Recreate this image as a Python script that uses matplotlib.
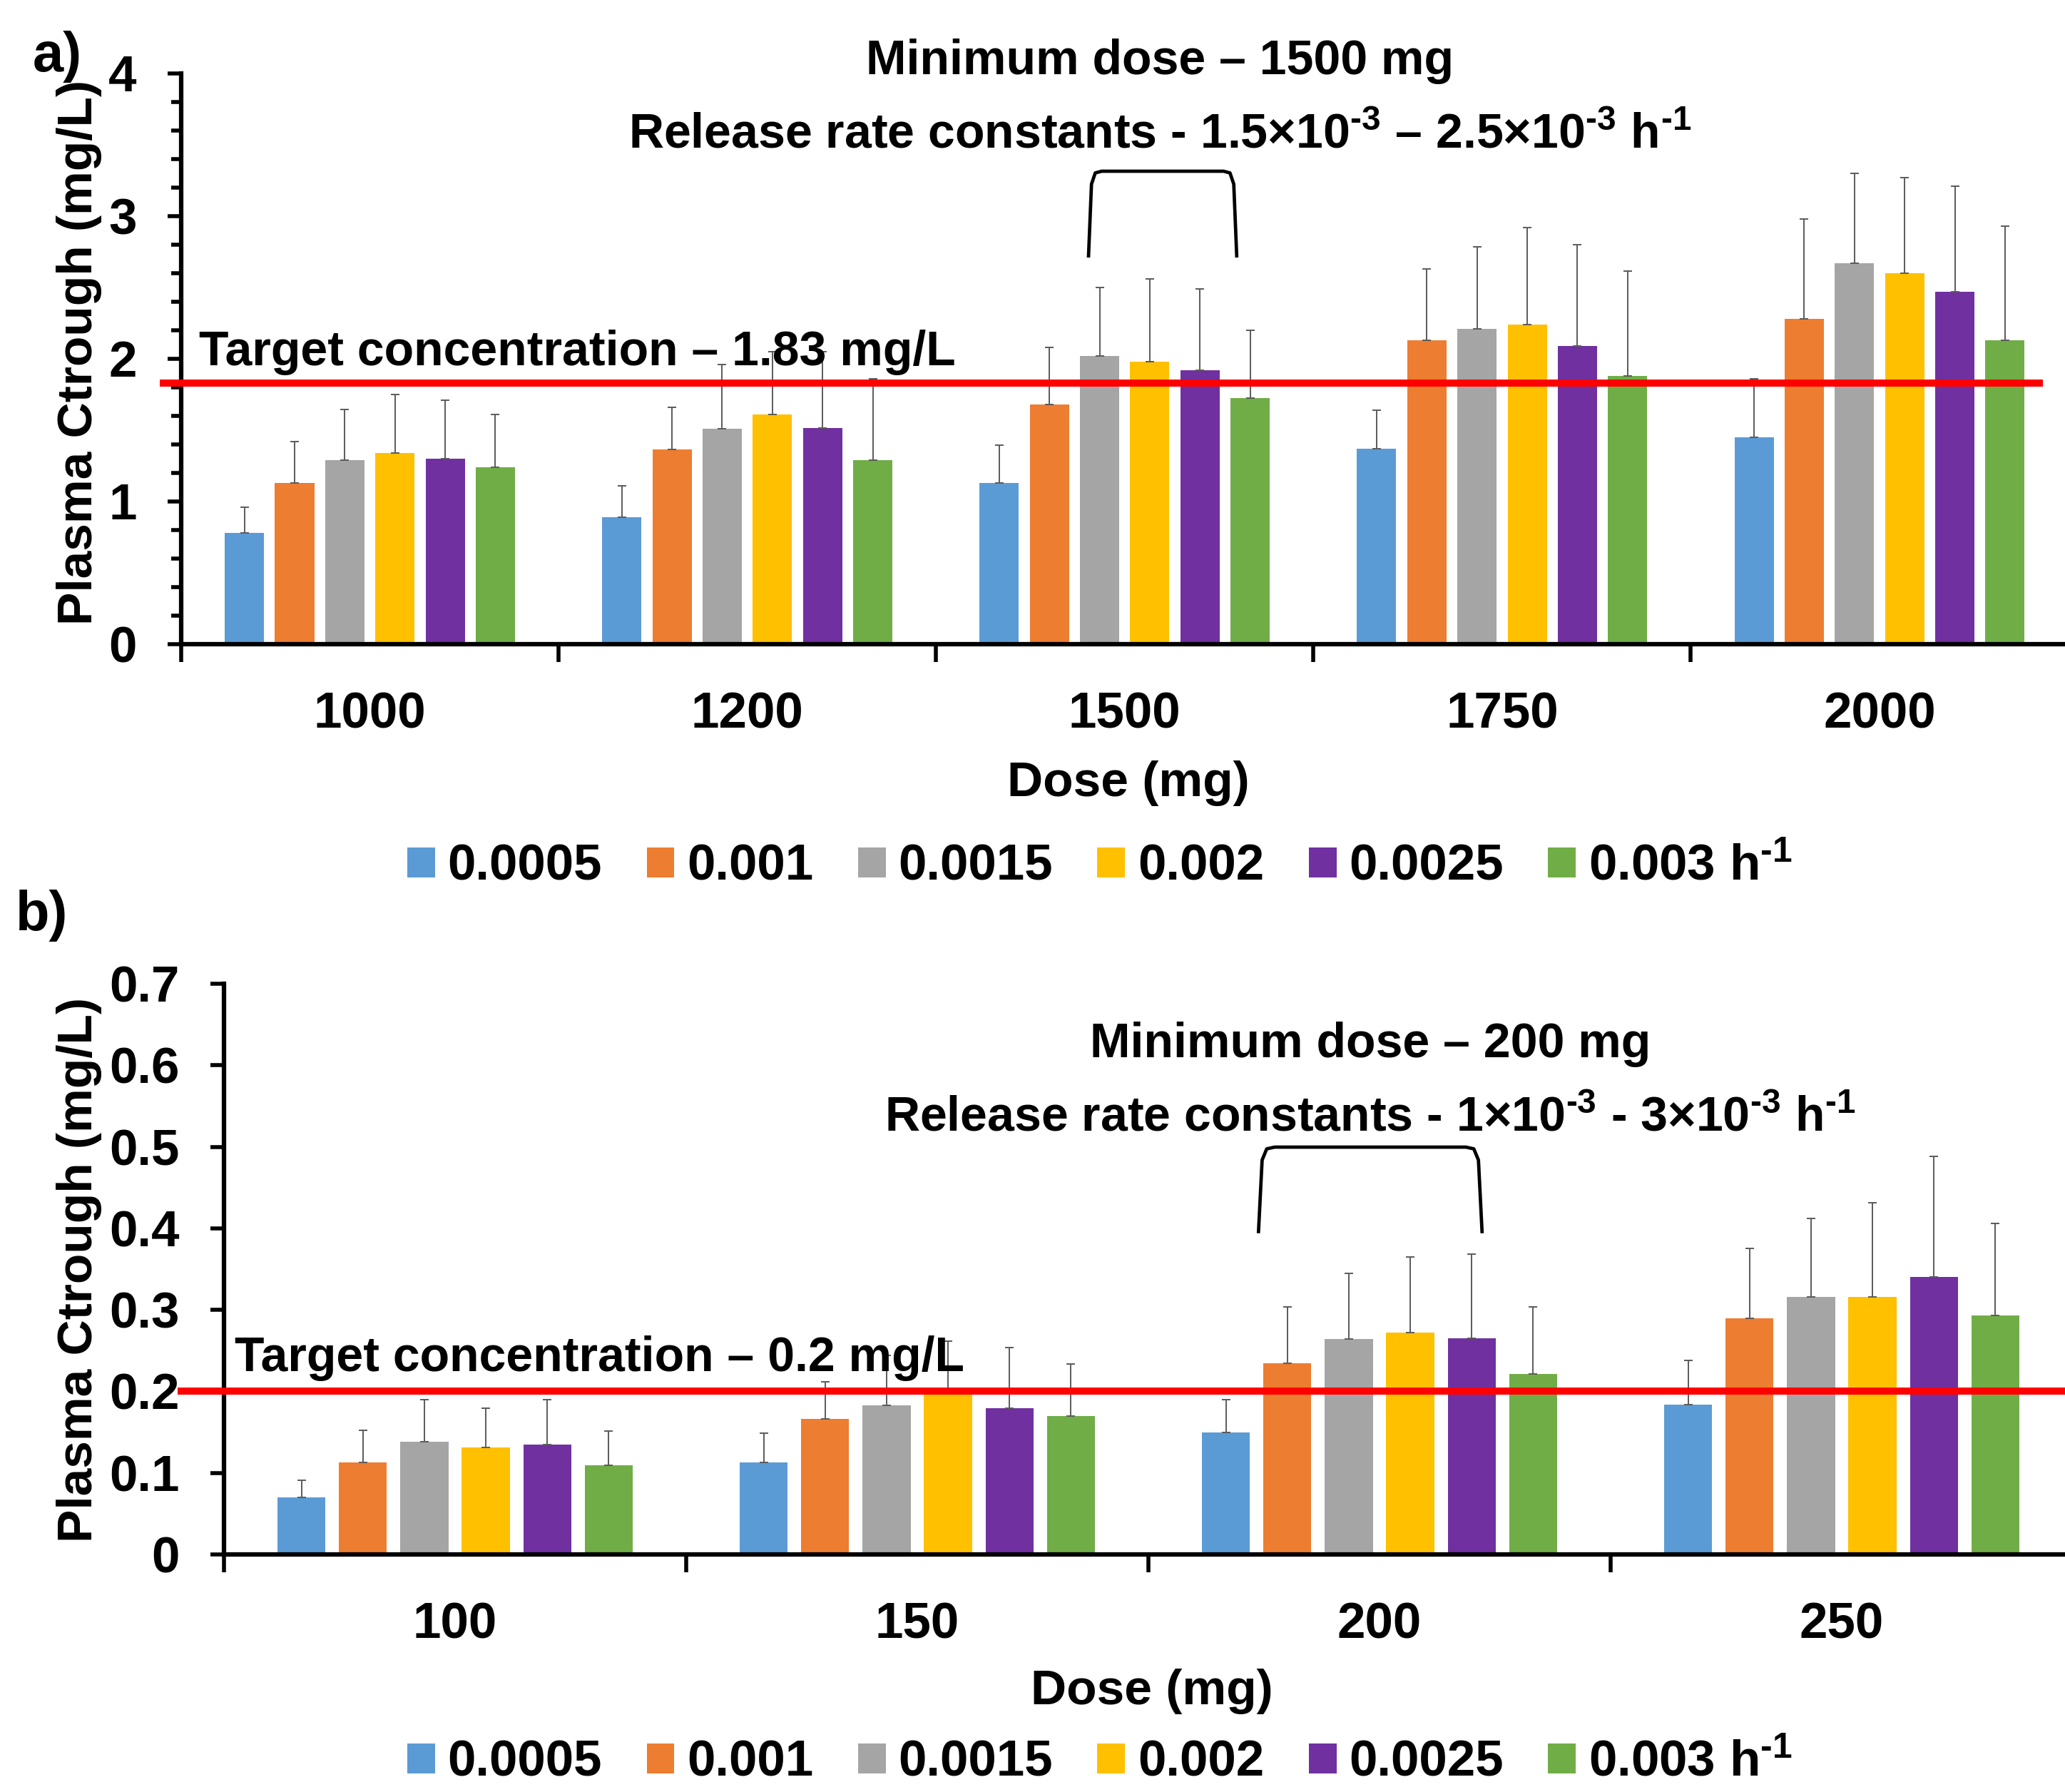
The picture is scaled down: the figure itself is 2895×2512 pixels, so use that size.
import numpy as np
import matplotlib
matplotlib.use("Agg")
import matplotlib.pyplot as plt
from matplotlib.ticker import MultipleLocator

plt.rcParams['font.family'] = ['Liberation Sans', 'DejaVu Sans']
plt.rcParams['font.weight'] = 'bold'
plt.rcParams['axes.labelweight'] = 'bold'
plt.rcParams['mathtext.fontset'] = 'custom'
plt.rcParams['mathtext.rm'] = 'Liberation Sans:bold'
plt.rcParams['mathtext.it'] = 'Liberation Sans:bold'
plt.rcParams['mathtext.bf'] = 'Liberation Sans:bold'

# release rate constants (series)
rates = ['0.0005', '0.001', '0.0015', '0.002', '0.0025', r'0.003 h$^{\text{-}1}$']
colors = ['#5B9BD5', '#ED7D31', '#A5A5A5', '#FFC000', '#7030A0', '#70AD47']

# panel a - rows are doses, columns are release rates
doses_a = ['1000', '1200', '1500', '1750', '2000']
mean_a = [
    [0.78, 1.13, 1.29, 1.34, 1.30, 1.24],
    [0.89, 1.365, 1.51, 1.61, 1.515, 1.29],
    [1.13, 1.68, 2.02, 1.98, 1.92, 1.725],
    [1.37, 2.13, 2.21, 2.24, 2.09, 1.88],
    [1.45, 2.28, 2.67, 2.60, 2.47, 2.13],
]
err_a = [
    [0.18, 0.29, 0.355, 0.41, 0.41, 0.37],
    [0.22, 0.295, 0.45, 0.44, 0.535, 0.57],
    [0.265, 0.40, 0.48, 0.58, 0.57, 0.475],
    [0.27, 0.50, 0.575, 0.68, 0.71, 0.735],
    [0.41, 0.70, 0.63, 0.67, 0.74, 0.80],
]
target_a = 1.83

# panel b
doses_b = ['100', '150', '200', '250']
mean_b = [
    [0.070, 0.1125, 0.138, 0.1315, 0.135, 0.109],
    [0.1125, 0.166, 0.183, 0.200, 0.179, 0.170],
    [0.1495, 0.2345, 0.2645, 0.2725, 0.265, 0.2215],
    [0.184, 0.290, 0.316, 0.316, 0.340, 0.2935],
]
err_b = [
    [0.021, 0.0395, 0.052, 0.0475, 0.055, 0.042],
    [0.0365, 0.046, 0.061, 0.062, 0.075, 0.064],
    [0.0405, 0.0695, 0.0805, 0.0925, 0.103, 0.0825],
    [0.054, 0.085, 0.096, 0.115, 0.148, 0.1125],
]
target_b = 0.2

FS = 49      # annotations
TFS = 51     # tick labels / legend
W, H = 2895, 2512
fig = plt.figure(figsize=(W / 100, H / 100), dpi=100)


def px_axes(left, top, right, bottom):
    return fig.add_axes([left / W, 1 - bottom / H, (right - left) / W, (bottom - top) / H])


def draw(ax, doses, means, errs):
    means = np.array(means)
    errs = np.array(errs)
    n = len(doses)
    x = np.arange(n)
    step, width = 0.133, 0.104
    handles = []
    for k in range(len(rates)):
        xs = x + (k - 2.5) * step
        b = ax.bar(xs, means[:, k], width, color=colors[k], zorder=2, label=rates[k])
        ax.errorbar(xs, means[:, k], yerr=[np.zeros(n), errs[:, k]], fmt='none',
                    ecolor='#5a5a5a', elinewidth=1.4, capsize=4, capthick=1.4, zorder=3)
        handles.append(b)
    ax.set_xlim(-0.5, n - 0.5)
    ax.set_xticks(np.arange(n + 1) - 0.5)
    ax.set_xticklabels([])
    ax.set_xticks(x, minor=True)
    ax.set_xticklabels(doses, minor=True, fontsize=TFS, fontweight='bold')
    ax.tick_params(axis='x', which='major', length=18, width=4, direction='out')
    ax.tick_params(axis='x', which='minor', length=0, pad=48)
    ax.tick_params(axis='y', which='major', length=14, width=4, pad=31, labelsize=TFS)
    ax.tick_params(axis='y', which='minor', length=10, width=4)
    for s in ['top', 'right']:
        ax.spines[s].set_visible(False)
    for s in ['left', 'bottom']:
        ax.spines[s].set_linewidth(4.5)
    ax.set_ylabel('Plasma Ctrough (mg/L)', fontsize=50, fontweight='bold', va='center')
    ax.set_xlabel('Dose (mg)', fontsize=50, fontweight='bold', va='center')
    return handles


def bracket(ax, x1, x2, y0, y1):
    dy = y1 - y0
    bx = [x1, x1 + 0.008, x1 + 0.018, x1 + 0.035, x2 - 0.035, x2 - 0.018, x2 - 0.008, x2]
    by = [y0, y0 + 0.85 * dy, y0 + 0.98 * dy, y1, y1, y0 + 0.98 * dy, y0 + 0.85 * dy, y0]
    ax.plot(bx, by, color='black', lw=3.4, zorder=5, clip_on=False, solid_capstyle='butt')


def legend(handles, ypx):
    fig.legend(handles=handles, labels=rates, loc='center', bbox_to_anchor=(0.5326, 1 - ypx / H),
               ncol=6, frameon=False, prop=dict(size=TFS, weight='bold'),
               handlelength=0.55, handleheight=0.55, handletextpad=0.25, columnspacing=0.88,
               borderpad=0.1)


sup = lambda s: r'$^{\text{-}' + s + '}$'

# ---- panel a ----
ax_a = px_axes(254, 103, 254 + 5 * 529.1, 903)
h = draw(ax_a, doses_a, mean_a, err_a)
ax_a.set_ylim(0, 4)
ax_a.yaxis.set_major_locator(MultipleLocator(1))
ax_a.yaxis.set_minor_locator(MultipleLocator(0.2))
ax_a.yaxis.set_label_coords(-0.054, 0.511)
ax_a.xaxis.set_label_coords(0.502, -0.244)
ax_a.plot([-0.547, 4.423], [target_a, target_a], color='#FF0000', lw=7.2, zorder=4, clip_on=False)
ax_a.text(-0.452, 2.045, 'Target concentration – 1.83 mg/L', fontsize=FS, fontweight='bold',
          ha='left', va='center', zorder=6)
ax_a.text(2.093, 4.085, 'Minimum dose – 1500 mg', fontsize=FS, fontweight='bold',
          ha='center', va='center', clip_on=False)
ax_a.text(2.093, 3.57, 'Release rate constants - 1.5×10' + sup('3') + ' – 2.5×10' + sup('3')
          + ' h' + sup('1'), fontsize=FS, fontweight='bold', ha='center', va='center')
bracket(ax_a, 1.904, 2.297, 2.71, 3.315)
legend(h, 1216)
fig.text(46 / W, 1 - 80 / H, 'a)', fontsize=56, fontweight='bold', ha='left', va='center')

# ---- panel b ----
ax_b = px_axes(314, 1379, 314 + 4 * 648, 2179)
h = draw(ax_b, doses_b, mean_b, err_b)
ax_b.set_ylim(0, 0.7)
ax_b.yaxis.set_major_locator(MultipleLocator(0.1))
ax_b.yaxis.set_major_formatter(plt.FuncFormatter(lambda v, p: '0' if abs(v) < 1e-9 else '%.1f' % v))
ax_b.yaxis.set_label_coords(-0.0783, 0.499)
ax_b.xaxis.set_label_coords(0.502, -0.24)
ax_b.plot([-0.593, 3.5], [target_b, target_b], color='#FF0000', lw=7.2, zorder=4, clip_on=False)
ax_b.text(-0.477, 0.241, 'Target concentration – 0.2 mg/L', fontsize=FS, fontweight='bold',
          ha='left', va='center', zorder=6)
ax_b.text(1.98, 0.626, 'Minimum dose – 200 mg', fontsize=FS, fontweight='bold',
          ha='center', va='center')
ax_b.text(1.98, 0.535, 'Release rate constants - 1×10' + sup('3') + ' - 3×10' + sup('3')
          + ' h' + sup('1'), fontsize=FS, fontweight='bold', ha='center', va='center')
bracket(ax_b, 1.738, 2.222, 0.394, 0.4996)
legend(h, 2472)
fig.text(22 / W, 1 - 1283 / H, 'b)', fontsize=56, fontweight='bold', ha='left', va='center')

fig.savefig('out.png', dpi=100)
